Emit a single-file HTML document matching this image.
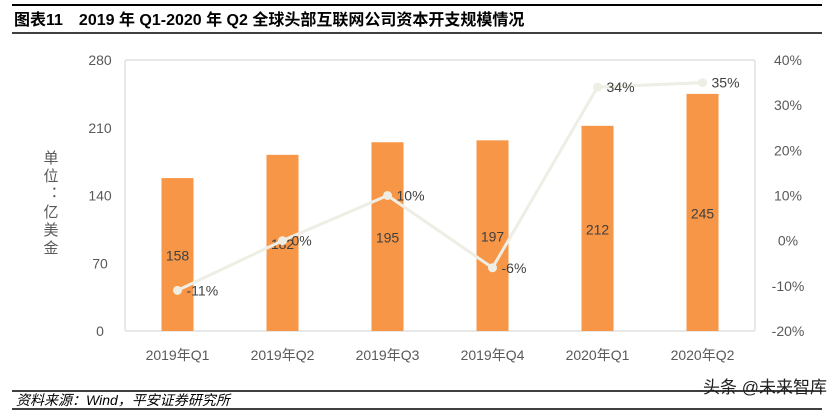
<!DOCTYPE html>
<html><head><meta charset="utf-8"><style>
body{margin:0;background:#fff;width:832px;height:411px;overflow:hidden;font-family:"Liberation Sans","Noto Sans CJK SC",sans-serif}
</style></head><body>
<svg width="832" height="411" xmlns="http://www.w3.org/2000/svg" font-family="Liberation Sans, Noto Sans CJK SC, sans-serif">
<line x1="12" y1="5" x2="822" y2="5" stroke="#000" stroke-width="2"/>
<text x="14" y="25" font-size="16" font-weight="bold" fill="#000">图表11　2019 年 Q1-2020 年 Q2 全球头部互联网公司资本开支规模情况</text>
<line x1="12" y1="33" x2="822" y2="33" stroke="#000" stroke-width="1.5"/>
<rect x="125" y="60" width="630" height="271" fill="none" stroke="#d9d9d9" stroke-width="1.2" rx="2"/>
<text x="28" y="196" font-size="15" fill="#595959" writing-mode="tb" transform="translate(0,0)">
<tspan x="50" y="150">单</tspan><tspan x="50" y="168">位</tspan><tspan x="50" y="186">：</tspan><tspan x="50" y="204">亿</tspan><tspan x="50" y="222">美</tspan><tspan x="50" y="240">金</tspan></text>
<g id="chart"></g>
<line x1="12" y1="391" x2="822" y2="391" stroke="#000" stroke-width="1.5"/>
<text x="16" y="405" font-size="14" font-style="italic" fill="#000">资料来源：Wind，平安证券研究所</text>
<line x1="12" y1="409" x2="822" y2="409" stroke="#000" stroke-width="1.5"/>
<text x="827" y="393" font-size="17" fill="#222" text-anchor="end">头条 @未来智库</text>
</svg>
<script>
const categories=["2019年Q1","2019年Q2","2019年Q3","2019年Q4","2020年Q1","2020年Q2"];
const capex=[158,182,195,197,212,245];
const growth=[-11,0,10,-6,34,35];
const growthLabels=["-11%","0%","10%","-6%","34%","35%"];
const leftTicks=[0,70,140,210,280];
const rightTicks=[-20,-10,0,10,20,30,40];
const NS="http://www.w3.org/2000/svg";
const g=document.getElementById('chart');
const x0=125,x1=755,yTop=60,yBot=331;
const yL=v=>yBot-(v/280)*(yBot-yTop);
const yR=v=>yBot-((v+20)/60)*(yBot-yTop);
const step=(x1-x0)/categories.length;
const xc=i=>x0+step*(i+0.5);
function mk(t,a,txt){const e=document.createElementNS(NS,t);for(const k in a)e.setAttribute(k,a[k]);if(txt!==undefined)e.textContent=txt;g.appendChild(e);return e;}
leftTicks.forEach(v=>{const e=mk('text',{x:100,y:yL(v)+5,'font-size':14,fill:'#595959','text-anchor':'middle'},v);

});
rightTicks.forEach(v=>{const e=mk('text',{x:788,y:yR(v)+5,'font-size':14,fill:'#595959','text-anchor':'middle'},v+'%');

});
categories.forEach((c,i)=>{
const b=mk('rect',{x:xc(i)-16,y:yL(capex[i]),width:32,height:yBot-yL(capex[i]),fill:'#f79646'});


const l=mk('text',{x:xc(i),y:yL(capex[i]/2)+6,'font-size':14,fill:'#404040','text-anchor':'middle'},capex[i]);


const t=mk('text',{x:xc(i),y:360,'font-size':14,fill:'#595959','text-anchor':'middle'},c);


});
const pts=growth.map((v,i)=>xc(i)+','+yR(v)).join(' ');
const pl=mk('polyline',{points:pts,fill:'none',stroke:'#eeeee4',"stroke-width":3});


growth.forEach((v,i)=>{
const c=mk('circle',{cx:xc(i),cy:yR(v),r:4.5,fill:'#eeeee4'});


const t=mk('text',{x:xc(i)+9,y:yR(v)+5,'font-size':14,fill:'#404040'},growthLabels[i]);


});
</script>
</body></html>
